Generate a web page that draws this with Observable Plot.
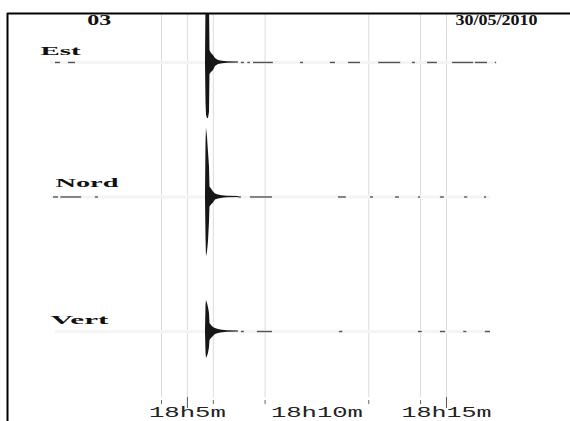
<!DOCTYPE html>
<html><head><meta charset="utf-8">
<script src="https://cdn.jsdelivr.net/npm/d3@7"></script>
<script src="https://cdn.jsdelivr.net/npm/@observablehq/plot@0.6"></script>
<style>html,body{margin:0;padding:0;background:#fff;overflow:hidden}</style>
</head><body><div id="chart"></div>
<script>
// ---- data (time in seconds after 18h00m00s, amplitude in trace units; traces 100 units apart) ----
const traceNames = ["Est", "Nord", "Vert"];
const traceOffsets = [0, 100, 200];
const stationLabel = "03";
const dateLabel = "30/05/2010";

const gridSeconds = [240, 300, 360, 480, 720, 840, 900];
const minorTickSeconds = [240, 360, 480, 720, 840];
const majorTickSeconds = [300, 900];
const tickLabelSeconds = [300, 600, 900];
const tickLabels = ["18h5m", "18h10m", "18h15m"];

// envelope of the main arrival
const envTimes = [341.9, 343.1, 344.2, 346.5, 348.8, 351.2, 352.3, 355.8, 360.4, 365.0, 372.0, 381.3, 392.8, 418.3];
const estUp    = [0, 45, 45, 45, 45, 45, 8.9, 6.7, 5.2, 3.0, 1.5, 0.9, 0.6, 0.4];
const estDown  = [0, 30, 39, 41.6, 41.6, 37.2, 8.9, 7.4, 5.9, 3.0, 1.5, 0.9, 0.6, 0.4];
const nordUp   = [0, 40, 51.3, 44.6, 33.5, 22.3, 7.4, 5.9, 3.7, 2.2, 1.5, 0.9, 0.6, 0.4];
const nordDown = [0, 30, 44.6, 40.9, 33.5, 18.6, 7.4, 5.9, 4.5, 2.2, 1.5, 0.9, 0.6, 0.4];
const vertUp   = [0, 19, 23.0, 20.8, 17.8, 13.4, 5.9, 4.5, 3.0, 2.2, 1.5, 0.9, 0.6, 0.4];
const vertDown = [0, 16, 20.1, 18.6, 16.4, 11.9, 6.7, 5.2, 3.7, 2.2, 1.5, 0.9, 0.6, 0.4];

// faint background-noise extent per trace
const noiseStart = [-17.1, -17.1, -5.5];
const noiseEnd = [1018, 1002, 1002];

// visible noise bursts [start, end] per trace
const estBursts = [[-5.5, 6.1], [24.6, 40.8], [425, 432], [440, 446], [453, 499], [562, 569], [631, 643], [673, 701], [743, 794], [821, 828], [856, 879], [914, 963], [967, 995], [1013, 1016]];
const nordBursts = [[-10, 1.5], [7, 55], [87, 94], [418, 425], [446, 497], [650, 668], [724, 731], [782, 791], [835, 840], [886, 895], [942, 949], [988, 993]];
const vertBursts = [[425, 432], [462, 497], [652, 660], [835, 844], [886, 898], [940, 947], [990, 1002]];

// ---- layout ----
const X_DOMAIN = [-116.6, 1187.2];
const Y_DOMAIN = [-36.4, 266.9];
const GRID_BOTTOM = 249.1;
const labelTimes = [-40, -5.5, -17];
const labelLevels = [-5.9, 92.6, 194.1];

// ---- tables ----
const upArr = [estUp, nordUp, vertUp];
const downArr = [estDown, nordDown, vertDown];
const env = [];
traceNames.forEach((n, i) => envTimes.forEach((t, j) => env.push({trace: n, t, top: traceOffsets[i] - upArr[i][j], bottom: traceOffsets[i] + downArr[i][j]})));
const noise = traceNames.map((n, i) => ({trace: n, y: traceOffsets[i], x1: noiseStart[i], x2: noiseEnd[i]}));
const bursts = [];
[estBursts, nordBursts, vertBursts].forEach((arr, i) => arr.forEach(([a, b]) => bursts.push({trace: traceNames[i], y: traceOffsets[i], x1: a, x2: b})));
const names = traceNames.map((n, i) => ({name: n, t: labelTimes[i], y: labelLevels[i]}));
const ticksTxt = tickLabelSeconds.map((t, i) => ({t, label: tickLabels[i]}));

const serif = "'Liberation Serif', 'DejaVu Serif', serif";
const svg = Plot.plot({
  width: 570, height: 421,
  marginTop: 13, marginLeft: 7, marginRight: 0, marginBottom: 0,
  x: {domain: X_DOMAIN, axis: null},
  y: {domain: Y_DOMAIN, reverse: true, axis: null},
  marks: [
    Plot.ruleX(gridSeconds, {x: d => d, y1: () => Y_DOMAIN[0], y2: () => GRID_BOTTOM, stroke: "#dcdcdc", strokeWidth: 1}),
    Plot.ruleY(noise, {y: "y", x1: "x1", x2: "x2", stroke: "#f4f4f4", strokeWidth: 3}),
    Plot.ruleY(bursts, {y: "y", x1: "x1", x2: "x2", stroke: "#555", strokeWidth: 1.4}),
    Plot.area(env, {x1: "t", y1: "top", y2: "bottom", z: "trace", fill: "#161616", clip: true}),
    Plot.ruleX(minorTickSeconds, {x: d => d, y1: () => 251.3, y2: () => 254.3, stroke: "#666", strokeWidth: 1}),
    Plot.ruleX(majorTickSeconds, {x: d => d, y1: () => GRID_BOTTOM, y2: () => 257.2, stroke: "#555", strokeWidth: 1}),
    Plot.text(ticksTxt, {x: "t", y: () => 263.9, text: "label", lineAnchor: "bottom", textAnchor: "middle", fontFamily: "'Liberation Mono', 'DejaVu Sans Mono', monospace", fontSize: 15, fill: "#222"}),
    Plot.text(names, {x: "t", y: "y", text: "name", lineAnchor: "bottom", textAnchor: "start", fontFamily: serif, fontWeight: "bold", fontSize: 13, fill: "#111"}),
    Plot.text([stationLabel], {x: () => 96, y: () => -28.0, text: d => d, lineAnchor: "bottom", textAnchor: "middle", fontFamily: serif, fontWeight: "bold", fontSize: 14, fill: "#111"}),
    Plot.text([dateLabel], {x: () => 1015.8, y: () => -28.0, text: d => d, lineAnchor: "bottom", textAnchor: "middle", fontFamily: serif, fontWeight: "bold", fontSize: 14, fill: "#111"}),
    Plot.ruleY([Y_DOMAIN[0]], {stroke: "#000", strokeWidth: 2}),
    Plot.ruleX([X_DOMAIN[0]], {stroke: "#000", strokeWidth: 2})
  ]
});

const widths = {"03": 24, "30/05/2010": 82, "Est": 40, "Nord": 63, "Vert": 58, "18h5m": 77, "18h10m": 92, "18h15m": 90};
svg.querySelectorAll("text").forEach(el => {
  const w = widths[el.textContent.trim()];
  if (w) { el.setAttribute("textLength", w); el.setAttribute("lengthAdjust", "spacingAndGlyphs"); }
});
document.getElementById("chart").appendChild(svg);
</script></body></html>
